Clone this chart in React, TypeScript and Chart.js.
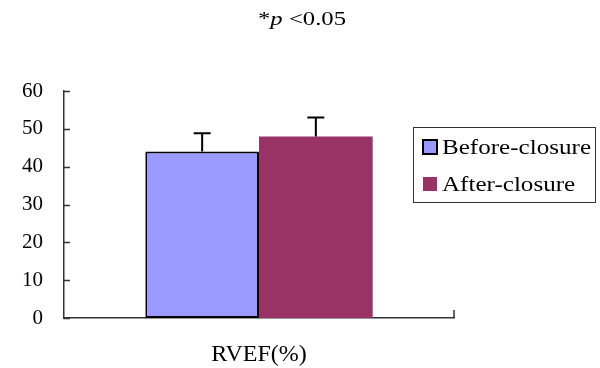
import React, { useEffect, useRef } from "react";
import { Chart, registerables } from "chart.js";

Chart.register(...registerables);

const categories = ["RVEF(%)"];
const seriesNames = ["Before-closure", "After-closure"];
const beforeValues = [44];
const afterValues = [48];
const beforeErrors = [4.8];
const afterErrors = [5.0];
const yTicks = [0, 10, 20, 30, 40, 50, 60];

const BEFORE_COLOR = "#9999FF";
const AFTER_COLOR = "#993366";
const SERIF = "'Liberation Serif', 'Times New Roman', serif";

const errorBarPlugin = {
  id: "errorBars",
  afterDatasetsDraw(chart: any) {
    const ctx = chart.ctx;
    const yScale = chart.scales.y;
    chart.data.datasets.forEach((ds: any, i: number) => {
      const meta = chart.getDatasetMeta(i);
      const errs: number[] = ds.errors || [];
      meta.data.forEach((el: any, j: number) => {
        const v = ds.data[j];
        const e = errs[j];
        if (e == null) return;
        const yTop = yScale.getPixelForValue(v + e);
        const yBar = yScale.getPixelForValue(v);
        ctx.save();
        ctx.strokeStyle = "#000";
        ctx.lineWidth = 2;
        ctx.beginPath();
        ctx.moveTo(el.x, yBar);
        ctx.lineTo(el.x, yTop);
        ctx.moveTo(el.x - 8.5, yTop);
        ctx.lineTo(el.x + 8.5, yTop);
        ctx.stroke();
        ctx.restore();
      });
    });
  },
};

const decorPlugin = {
  id: "decor",
  afterDraw(chart: any) {
    const ctx = chart.ctx;
    const area = chart.chartArea;
    const yScale = chart.scales.y;
    ctx.save();
    ctx.strokeStyle = "#333";
    ctx.lineWidth = 1.5;
    ctx.beginPath();
    yScale.ticks.forEach((t: any) => {
      const py = Math.round(yScale.getPixelForValue(t.value)) + 0.5;
      ctx.moveTo(area.left, py);
      ctx.lineTo(area.left + 6, py);
    });
    ctx.moveTo(area.right, area.bottom);
    ctx.lineTo(area.right, area.bottom - 8);
    ctx.stroke();

    // title: *p <0.05
    const sx = 1.3;
    ctx.fillStyle = "#000";
    ctx.textBaseline = "alphabetic";
    ctx.textAlign = "left";
    ctx.translate(258, 25);
    ctx.scale(sx, 1);
    let x = 0;
    ctx.font = `19px ${SERIF}`;
    ctx.fillText("*", x, 0);
    x += ctx.measureText("*").width;
    ctx.font = `italic 19px ${SERIF}`;
    ctx.fillText("p", x, 0);
    x += ctx.measureText("p").width;
    ctx.font = `19px ${SERIF}`;
    ctx.fillText(" <0.05", x, 0);
    ctx.restore();

    // legend
    ctx.save();
    ctx.strokeStyle = "#333";
    ctx.lineWidth = 1;
    ctx.strokeRect(413.5, 127.5, 182, 75);
    const rows = [
      { y: 147, color: BEFORE_COLOR, border: true },
      { y: 184, color: AFTER_COLOR, border: false },
    ];
    chart.data.datasets.forEach((ds: any, i: number) => {
      const r = rows[i];
      ctx.fillStyle = r.color;
      ctx.fillRect(423, r.y - 7, 14, 14);
      if (r.border) {
        ctx.strokeStyle = "#000";
        ctx.lineWidth = 2;
        ctx.strokeRect(423, r.y - 7, 14, 14);
      }
      ctx.save();
      ctx.fillStyle = "#000";
      ctx.font = `22px ${SERIF}`;
      ctx.textBaseline = "middle";
      ctx.translate(442, r.y + 1);
      ctx.scale(1.14, 1);
      ctx.fillText(ds.label, 0, 0);
      ctx.restore();
    });
    ctx.restore();
  },
};

export default function App() {
  const canvasRef = useRef<HTMLCanvasElement | null>(null);

  useEffect(() => {
    document.body.style.margin = "0";
    const canvas = canvasRef.current;
    if (!canvas) return;
    const chart = new Chart(canvas, {
      type: "bar",
      data: {
        labels: categories,
        datasets: [
          {
            label: seriesNames[0],
            data: beforeValues,
            errors: beforeErrors,
            backgroundColor: BEFORE_COLOR,
            borderColor: "#000",
            borderWidth: 2,
            borderSkipped: false,
          } as any,
          {
            label: seriesNames[1],
            data: afterValues,
            errors: afterErrors,
            backgroundColor: AFTER_COLOR,
            borderWidth: 0,
          } as any,
        ],
      },
      options: {
        animation: false,
        responsive: false,
        devicePixelRatio: 1,
        layout: { padding: { left: 0, top: 91, right: 146, bottom: 0 } },
        datasets: {
          bar: { categoryPercentage: 0.583, barPercentage: 1 },
        },
        plugins: {
          legend: { display: false },
          title: { display: false },
          tooltip: { enabled: false },
        },
        scales: {
          x: {
            grid: { display: false, drawTicks: false },
            border: { display: true, color: "#333", width: 1.5 },
            ticks: {
              color: "#000",
              font: { family: SERIF, size: 24 },
              padding: 22,
            },
            afterFit(scale: any) {
              scale.height = 50;
            },
          },
          y: {
            min: 0,
            max: 60,
            grid: { display: false, drawTicks: false },
            border: { display: true, color: "#333", width: 1.5 },
            afterBuildTicks(scale: any) {
              scale.ticks = yTicks.map((v) => ({ value: v }));
            },
            ticks: {
              color: "#000",
              font: { family: SERIF, size: 21 },
              padding: 21,
            },
            afterFit(scale: any) {
              scale.width = 64;
            },
          },
        },
      } as any,
      plugins: [errorBarPlugin, decorPlugin],
    });
    return () => chart.destroy();
  }, []);

  return (
    <div style={{ width: 600, height: 368 }}>
      <canvas ref={canvasRef} width={600} height={368} />
    </div>
  );
}
